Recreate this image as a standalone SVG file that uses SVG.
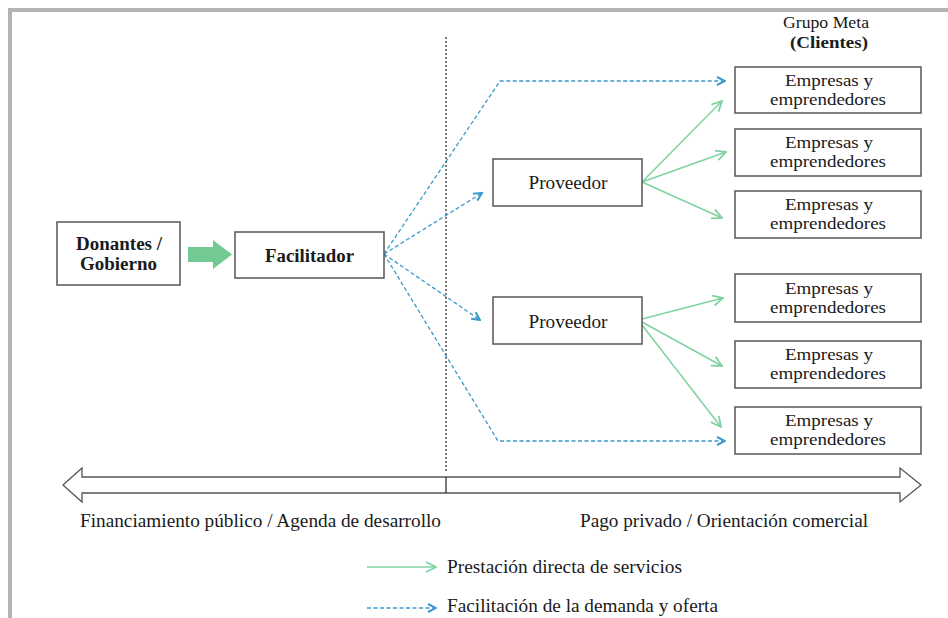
<svg xmlns="http://www.w3.org/2000/svg" width="948" height="618" viewBox="0 0 948 618">
<style>
  text { font-family: "Times New Roman", "Liberation Serif", Tinos, "DejaVu Serif", serif; fill: #1a1a1a; }
  .box { fill: #ffffff; stroke: #555555; stroke-width: 1.5; }
  .lbl { font-size: 18px; text-anchor: middle; }
  .emp { font-size: 17.5px; text-anchor: middle; }
  .bold { font-weight: bold; }
  .blue { fill: none; stroke: #3a9ac9; stroke-width: 1.3; stroke-dasharray: 4 2.5; }
  .green { fill: none; stroke: #7fd3a0; stroke-width: 1.5; }
  .axis { font-size: 18px; }
  .leg { font-size: 18.5px; }
</style>
<defs>
  <marker id="mBlue" viewBox="0 0 10 10" refX="9" refY="5" markerWidth="10" markerHeight="10" markerUnits="userSpaceOnUse" orient="auto">
    <path d="M1,1 L9,5 L1,9" fill="none" stroke="#3a9ac9" stroke-width="2"/>
  </marker>
  <marker id="mGreen" viewBox="0 0 12 12" refX="11" refY="6" markerWidth="12" markerHeight="12" markerUnits="userSpaceOnUse" orient="auto">
    <path d="M1,1 L11,6 L1,11" fill="none" stroke="#7fd3a0" stroke-width="1.8"/>
  </marker>
</defs>
<rect width="948" height="618" fill="#ffffff"/>
<g id="frame">
  <rect x="8" y="8" width="940" height="4" fill="#b3b3b3"/>
  <rect x="8" y="8" width="4" height="610" fill="#b3b3b3"/>
</g>

<g id="axis">
  <line x1="446" y1="37" x2="446" y2="472" stroke="#333" stroke-width="1.3" stroke-dasharray="2 2"/>
  <polygon points="63,485 82,468 82,477 900,477 900,468 921,485 900,502 900,493 82,493 82,502" fill="#ffffff" stroke="#555" stroke-width="1.3"/>
  <line x1="446" y1="477" x2="446" y2="493" stroke="#333" stroke-width="1.3"/>
  <text class="axis" x="80" y="527" textLength="361" lengthAdjust="spacingAndGlyphs">Financiamiento público / Agenda de desarrollo</text>
  <text class="axis" x="580" y="527" textLength="288" lengthAdjust="spacingAndGlyphs">Pago privado / Orientación comercial</text>
</g>

<g id="grupo-meta">
  <text x="826" y="28" font-size="16.5" text-anchor="middle" textLength="86" lengthAdjust="spacingAndGlyphs">Grupo Meta</text>
  <text x="829" y="48" font-size="16.5" text-anchor="middle" class="bold" textLength="78" lengthAdjust="spacingAndGlyphs">(Clientes)</text>
</g>

<g id="connectors">
  <polygon points="188,247 213,247 213,240 232,254.5 213,269 213,262 188,262" fill="#72c994"/>
  <polyline class="blue" points="384,254 500,81 725,81" marker-end="url(#mBlue)"/>
  <line class="blue" x1="384" y1="254" x2="482" y2="193" marker-end="url(#mBlue)"/>
  <line class="blue" x1="384" y1="254" x2="480" y2="320" marker-end="url(#mBlue)"/>
  <polyline class="blue" points="384,254 498,441 725,441" marker-end="url(#mBlue)"/>
  <line class="green" x1="642" y1="182" x2="722" y2="101" marker-end="url(#mGreen)"/>
  <line class="green" x1="642" y1="182" x2="726" y2="152" marker-end="url(#mGreen)"/>
  <line class="green" x1="642" y1="182" x2="722" y2="218" marker-end="url(#mGreen)"/>
  <line class="green" x1="642" y1="319" x2="723" y2="298" marker-end="url(#mGreen)"/>
  <line class="green" x1="642" y1="322" x2="722" y2="366" marker-end="url(#mGreen)"/>
  <line class="green" x1="642" y1="325" x2="721" y2="427" marker-end="url(#mGreen)"/>
</g>

<g id="donantes">
  <rect class="box" x="57" y="222" width="123" height="63"/>
  <text class="lbl bold" x="119" y="250" textLength="86" lengthAdjust="spacingAndGlyphs">Donantes /</text>
  <text class="lbl bold" x="118.5" y="270" textLength="77" lengthAdjust="spacingAndGlyphs">Gobierno</text>
</g>
<g id="facilitador">
  <rect class="box" x="235" y="232" width="149" height="46"/>
  <text class="lbl bold" x="309.5" y="262" textLength="89" lengthAdjust="spacingAndGlyphs">Facilitador</text>
</g>
<g id="proveedor1">
  <rect class="box" x="493" y="159" width="149" height="47"/>
  <text class="lbl" x="568" y="189" textLength="79" lengthAdjust="spacingAndGlyphs">Proveedor</text>
</g>
<g id="proveedor2">
  <rect class="box" x="493" y="297" width="149" height="47"/>
  <text class="lbl" x="568" y="328" textLength="79" lengthAdjust="spacingAndGlyphs">Proveedor</text>
</g>
<g id="empresas1">
  <rect class="box" x="735" y="67" width="186" height="46"/>
  <text class="emp" x="829" y="86" textLength="88" lengthAdjust="spacingAndGlyphs">Empresas y</text>
  <text class="emp" x="828" y="105" textLength="116" lengthAdjust="spacingAndGlyphs">emprendedores</text>
</g>
<g id="empresas2">
  <rect class="box" x="735" y="129" width="186" height="47"/>
  <text class="emp" x="829" y="148" textLength="88" lengthAdjust="spacingAndGlyphs">Empresas y</text>
  <text class="emp" x="828" y="167" textLength="116" lengthAdjust="spacingAndGlyphs">emprendedores</text>
</g>
<g id="empresas3">
  <rect class="box" x="735" y="191" width="186" height="47"/>
  <text class="emp" x="829" y="210" textLength="88" lengthAdjust="spacingAndGlyphs">Empresas y</text>
  <text class="emp" x="828" y="229" textLength="116" lengthAdjust="spacingAndGlyphs">emprendedores</text>
</g>
<g id="empresas4">
  <rect class="box" x="735" y="274" width="186" height="48"/>
  <text class="emp" x="829" y="294" textLength="88" lengthAdjust="spacingAndGlyphs">Empresas y</text>
  <text class="emp" x="828" y="313" textLength="116" lengthAdjust="spacingAndGlyphs">emprendedores</text>
</g>
<g id="empresas5">
  <rect class="box" x="735" y="341" width="186" height="47"/>
  <text class="emp" x="829" y="360" textLength="88" lengthAdjust="spacingAndGlyphs">Empresas y</text>
  <text class="emp" x="828" y="379" textLength="116" lengthAdjust="spacingAndGlyphs">emprendedores</text>
</g>
<g id="empresas6">
  <rect class="box" x="735" y="407" width="186" height="47"/>
  <text class="emp" x="829" y="426" textLength="88" lengthAdjust="spacingAndGlyphs">Empresas y</text>
  <text class="emp" x="828" y="445" textLength="116" lengthAdjust="spacingAndGlyphs">emprendedores</text>
</g>

<g id="legend">
  <line class="green" x1="367" y1="567" x2="436" y2="567" marker-end="url(#mGreen)"/>
  <text class="leg" x="447" y="573" textLength="235" lengthAdjust="spacingAndGlyphs">Prestación directa de servicios</text>
  <line class="blue" x1="367" y1="608" x2="436" y2="608" marker-end="url(#mBlue)"/>
  <text class="leg" x="447" y="612" textLength="271" lengthAdjust="spacingAndGlyphs">Facilitación de la demanda y oferta</text>
</g>
</svg>
